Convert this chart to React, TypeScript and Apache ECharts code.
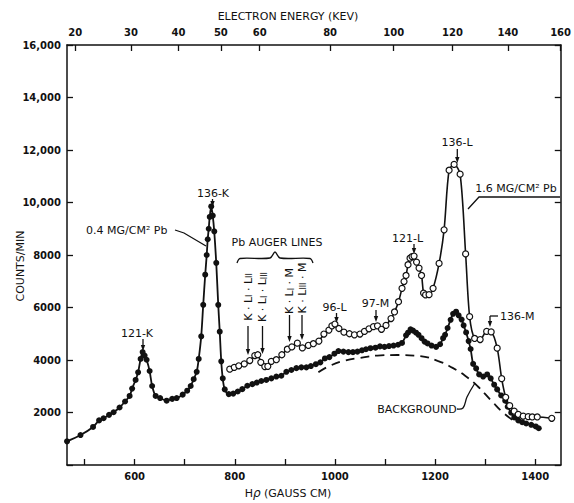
import React, { useEffect, useRef } from "react";
import * as echarts from "echarts";

// ---- data ----
// 0.4 MG/CM² Pb (filled circles)
const THIN_H = [465, 492, 517, 529, 538, 549, 558, 570, 581, 590, 595, 602, 607, 612, 616, 620, 624, 630, 635, 642, 651, 664, 675, 684, 696, 705, 712, 718, 724, 728, 733, 737, 741, 744, 746, 748, 750, 753, 756, 759, 763, 767, 770, 773, 776, 780, 788, 797, 806, 815, 825, 835, 844, 853, 863, 873, 883, 893, 903, 913, 923, 933, 943, 952, 962, 971, 980, 989, 999, 1007, 1017, 1027, 1036, 1045, 1054, 1062, 1071, 1081, 1090, 1099, 1108, 1117, 1126, 1134, 1142, 1146, 1151, 1156, 1162, 1167, 1173, 1179, 1185, 1193, 1202, 1210, 1216, 1220, 1225, 1231, 1236, 1242, 1247, 1253, 1257, 1262, 1267, 1271, 1276, 1282, 1288, 1296, 1304, 1311, 1318, 1324, 1332, 1340, 1345, 1352, 1358, 1366, 1374, 1382, 1392, 1401, 1407];
const THIN_V = [900, 1140, 1450, 1700, 1780, 1910, 2010, 2190, 2420, 2630, 2910, 3240, 3530, 4040, 4300, 4170, 4010, 3580, 3010, 2630, 2550, 2450, 2520, 2550, 2680, 2830, 3010, 3270, 3550, 4040, 4900, 6100, 7250, 8000, 8600, 9000, 9450, 9850, 9500, 8900, 7700, 6100, 5080, 3950, 3300, 2880, 2700, 2720, 2800, 2890, 3020, 3080, 3140, 3200, 3240, 3300, 3370, 3400, 3550, 3620, 3690, 3720, 3720, 3770, 3840, 3910, 4060, 4110, 4240, 4340, 4320, 4300, 4300, 4320, 4370, 4410, 4450, 4470, 4520, 4500, 4530, 4550, 4580, 4650, 4940, 5040, 5170, 5120, 5040, 4960, 4830, 4700, 4630, 4550, 4500, 4600, 4830, 4960, 5220, 5530, 5760, 5840, 5700, 5540, 5320, 5050, 4720, 4420, 3850, 3680, 3450, 3370, 3450, 3300, 3060, 2880, 2650, 2450, 2220, 1990, 1810, 1700, 1630, 1580, 1530, 1470, 1400];

// 1.6 MG/CM² Pb (open circles)
const THICK_H = [790, 799, 808, 819, 830, 840, 846, 852, 860, 866, 873, 883, 894, 905, 914, 925, 935, 947, 957, 968, 978, 988, 994, 1000, 1008, 1018, 1029, 1039, 1050, 1059, 1068, 1077, 1085, 1093, 1102, 1112, 1119, 1127, 1134, 1138, 1142, 1146, 1150, 1154, 1158, 1163, 1168, 1173, 1177, 1181, 1188, 1196, 1208, 1218, 1228, 1238, 1250, 1261, 1269, 1279, 1290, 1303, 1312, 1324, 1333, 1341, 1349, 1358, 1366, 1376, 1386, 1394, 1404, 1433];
const THICK_V = [3650, 3720, 3780, 3850, 3980, 4170, 4200, 3910, 3750, 3760, 3950, 4010, 4200, 4410, 4500, 4640, 4460, 4560, 4620, 4720, 4990, 5140, 5300, 5370, 5200, 5060, 5000, 4960, 4990, 5090, 5190, 5270, 5300, 5170, 5320, 5580, 5830, 6220, 6730, 6990, 7220, 7630, 7880, 7940, 7960, 7730, 7500, 7220, 6550, 6480, 6490, 6730, 7680, 8960, 11230, 11450, 11080, 8040, 5650, 4820, 4780, 5090, 5070, 4450, 3290, 2580, 2260, 2050, 1930, 1860, 1840, 1830, 1830, 1780];

// Background (dashed)
const BG_H = [967, 990, 1020, 1050, 1085, 1125, 1165, 1205, 1235, 1260, 1285, 1311, 1337, 1362];
const BG_V = [3530, 3780, 3980, 4080, 4170, 4190, 4160, 3970, 3700, 3400, 3000, 2480, 1980, 1620];

// axes
const X_MIN = 465;
const X_MAX = 1451;
const X_TICKS = [500, 600, 700, 800, 900, 1000, 1100, 1200, 1300, 1400];
const X_LABELS = [600, 800, 1000, 1200, 1400];
const KEV_TICKS = [20, 30, 40, 50, 60, 80, 100, 120, 140, 160];
const Y_MAX = 16000;
const Y_STEP = 2000;

const ME = 511; // keV
const HR_PER_KEV = 3.3356; // gauss cm per keV/c
const kevToHr = (t: number) => Math.sqrt(t * t + 2 * t * ME) * HR_PER_KEV;
const hrToKev = (h: number) => Math.sqrt((h / HR_PER_KEV) ** 2 + ME * ME) - ME;

const FONT = "DejaVu Sans";
const INK = "#111";

const zip = (a: number[], b: number[]) => a.map((v, i) => [v, b[i]]);

function txt(text: string, x: number, y: number, o: any = {}) {
  const align = o.align || "center";
  return {
    type: "text",
    x,
    y,
    rotation: o.rot || 0,
    z: 100,
    style: {
      text,
      fill: INK,
      fontSize: o.size || 11,
      fontFamily: FONT,
      fontWeight: o.weight || "normal",
      align,
      verticalAlign: "middle",
      textAlign: align,
      textVerticalAlign: "middle",
      rich: o.rich,
    },
  };
}
function pl(points: number[][], smooth = 0) {
  return {
    type: "polyline",
    z: 100,
    shape: { points, smooth },
    style: { stroke: INK, lineWidth: 1.3, fill: "none" },
  };
}
function arrow(x: number, y1: number, y2: number) {
  return [
    pl([[x, y1], [x, y2 - 4]]),
    {
      type: "polygon",
      z: 100,
      shape: { points: [[x - 2.2, y2 - 6], [x + 2.2, y2 - 6], [x, y2]] },
      style: { fill: INK },
    },
  ];
}

const SUB = {
  s: { fontSize: 8, fontFamily: FONT, fill: INK, color: INK, verticalAlign: "bottom" },
  n: { fontSize: 11, fontFamily: FONT, fill: INK, color: INK },
};

export default function App() {
  const ref = useRef<HTMLDivElement>(null);
  useEffect(() => {
    if (!ref.current) return;
    const chart = echarts.init(ref.current, null, { renderer: "svg" });
    const axisLine = { show: true, onZero: false, lineStyle: { color: INK, width: 1.5 } };
    const tickStyle = { color: INK, width: 1.3 };
    const lab = { color: INK, fontFamily: FONT, fontSize: 10, fontWeight: "bold" };
    const hrTicks = KEV_TICKS.map(kevToHr);

    const graphic: any[] = [
      txt("ELECTRON ENERGY (KEV)", 288, 16, { size: 11 }),
      txt("COUNTS/MIN", 20, 266, { size: 11, rot: Math.PI / 2 }),
      {
        type: "text",
        x: 288,
        y: 493,
        z: 100,
        style: {
          text: "H{i|ρ} (GAUSS CM)",
          fill: INK,
          fontSize: 11,
          fontFamily: FONT,
          align: "center",
          verticalAlign: "middle",
          textAlign: "center",
          textVerticalAlign: "middle",
          rich: { i: { fontSize: 12, fontStyle: "italic", fontFamily: FONT, fill: INK, color: INK } },
        },
      },
      txt("121-K", 137, 333),
      ...arrow(143, 339, 351),
      txt("136-K", 213, 193),
      ...arrow(212.5, 199, 207),
      txt("0.4 MG/CM² Pb", 86, 230, { align: "left" }),
      pl([[175, 230], [184, 233], [206, 246]]),
      txt("Pb AUGER LINES", 277, 242),
      pl([[237, 263], [240, 258.5], [270, 258], [275, 252], [280, 258], [310, 258.5], [313, 263]], 0.3),
      txt("{n|K · L}{s|I}{n| · L}{s|II}", 248, 297, { rot: Math.PI / 2, rich: SUB }),
      ...arrow(248, 326, 355),
      txt("{n|K · L}{s|I}{n| · L}{s|III}", 262.5, 297, { rot: Math.PI / 2, rich: SUB }),
      ...arrow(262.5, 326, 354),
      txt("{n|K · L}{s|I}{n| · M}", 289.5, 291, { rot: Math.PI / 2, rich: SUB }),
      ...arrow(289.5, 315, 342),
      txt("{n|K · L}{s|III}{n| · M}", 302, 288, { rot: Math.PI / 2, rich: SUB }),
      ...arrow(302, 315, 340),
      txt("96-L", 334.5, 307),
      ...arrow(336.5, 313, 323),
      txt("97-M", 375.5, 303.5),
      ...arrow(376, 310, 322),
      txt("121-L", 407.5, 238),
      ...arrow(414, 244, 254),
      txt("136-L", 457, 142),
      ...arrow(457.3, 149, 163),
      txt("1.6 MG/CM² Pb", 516, 188),
      pl([[560, 197], [479, 197], [468, 209]]),
      txt("136-M", 500, 316, { align: "left" }),
      pl([[498, 316], [490, 316]]),
      ...arrow(490, 316, 327),
      txt("BACKGROUND", 417, 409),
      pl([[457, 409], [463, 408], [467, 397], [475, 383]], 0.4),
    ];

    chart.setOption({
      animation: false,
      backgroundColor: "#fff",
      textStyle: { fontFamily: FONT },
      grid: { left: 67, right: 11, top: 45, bottom: 38 },
      xAxis: [
        {
          type: "value",
          min: X_MIN,
          max: X_MAX,
          position: "bottom",
          axisLine,
          axisTick: { show: true, inside: true, length: 6, customValues: X_TICKS, lineStyle: tickStyle },
          axisLabel: { ...lab, margin: 6, customValues: X_LABELS, formatter: (v: number) => String(v) },
          splitLine: { show: false },
        },
        {
          type: "value",
          min: X_MIN,
          max: X_MAX,
          position: "top",
          axisLine,
          axisTick: { show: true, inside: true, length: 6, customValues: hrTicks, lineStyle: tickStyle },
          axisLabel: {
            ...lab,
            margin: 8,
            customValues: hrTicks,
            showMaxLabel: true,
            formatter: (v: number) => String(Math.round(hrToKev(v))),
          },
          splitLine: { show: false },
        },
      ],
      yAxis: [
        {
          type: "value",
          min: 0,
          max: Y_MAX,
          interval: Y_STEP,
          position: "left",
          axisLine,
          axisTick: { show: true, inside: true, length: 6, lineStyle: tickStyle },
          axisLabel: {
            ...lab,
            margin: 6,
            formatter: (v: number) =>
              v === 0 ? "" : v >= 10000 ? v.toLocaleString("en-US") : String(v),
          },
          splitLine: { show: false },
        },
        {
          type: "value",
          min: 0,
          max: Y_MAX,
          interval: Y_STEP,
          position: "right",
          axisLine,
          axisTick: { show: true, inside: true, length: 6, lineStyle: tickStyle },
          axisLabel: { show: false },
          splitLine: { show: false },
        },
      ],
      series: [
        {
          type: "line",
          name: "background",
          data: zip(BG_H, BG_V),
          symbol: "none",
          smooth: 0.5,
          lineStyle: { color: INK, width: 1.8, type: [9, 6] },
          z: 2,
        },
        {
          type: "line",
          name: "0.4 MG/CM2 Pb",
          data: zip(THIN_H, THIN_V),
          symbol: "circle",
          symbolSize: 6,
          smooth: 0.3,
          itemStyle: { color: INK },
          lineStyle: { color: INK, width: 1.8 },
          z: 3,
        },
        {
          type: "line",
          name: "1.6 MG/CM2 Pb",
          data: zip(THICK_H, THICK_V),
          symbol: "circle",
          symbolSize: 6,
          smooth: 0.3,
          itemStyle: { color: "#fff", borderColor: INK, borderWidth: 1.2 },
          lineStyle: { color: INK, width: 1.6 },
          z: 4,
        },
      ],
      graphic,
    });
    return () => chart.dispose();
  }, []);
  return (
    <div
      ref={ref}
      style={{ position: "fixed", left: 0, top: 0, width: 574, height: 503, background: "#fff" }}
    />
  );
}
